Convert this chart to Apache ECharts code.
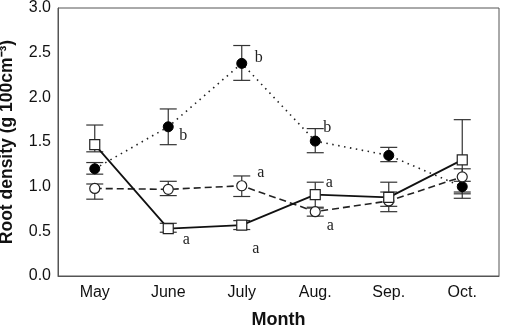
<!DOCTYPE html>
<html>
<head>
<meta charset="utf-8">
<script src="https://cdn.jsdelivr.net/npm/echarts@6/dist/echarts.min.js"></script>
<style>
  html, body { margin: 0; padding: 0; background: #fff; }
  #main { width: 507px; height: 332px; }
</style>
</head>
<body>
<div id="main"></div>
<script>
const months = ["May", "June", "July", "Aug.", "Sep.", "Oct."];
const yTicks = [0, 0.5, 1.0, 1.5, 2.0, 2.5, 3.0];

// filled circles, dotted line
const filledMean = [1.20, 1.67, 2.38, 1.51, 1.35, 1.00];
const filledHi = [1.27, 1.87, 2.58, 1.65, 1.44, 1.06];
const filledLo = [1.14, 1.47, 2.19, 1.38, 1.28, 0.92];
const filledLetters = ["", "b", "b", "b", "", ""];

// open circles, dashed line
const openMean = [0.98, 0.97, 1.01, 0.72, 0.84, 1.11];
const openHi = [1.03, 1.06, 1.12, 0.76, 0.94, 1.20];
const openLo = [0.86, 0.90, 0.89, 0.67, 0.78, 0.94];
const openLetters = ["", "", "a", "a", "", ""];

// open squares, solid line
const squareMean = [1.47, 0.53, 0.57, 0.91, 0.88, 1.30];
const squareHi = [1.69, 0.59, 0.62, 1.05, 1.05, 1.75];
const squareLo = [1.39, 0.49, 0.52, 0.77, 0.72, 0.87];
const squareLetters = ["", "a", "a", "a", "", ""];

// where each letter sits relative to its point (px)
const filledOff = [null, [15, 9], [17, -6], [12, -13], null, null];
const openOff = [null, null, [19, -13], [15, 14], null, null];
const squareOff = [null, [18, 11], [14, 24], [14, -12], null, null];

const chart = echarts.init(document.getElementById("main"));

function withLetters(means, letters, offs) {
  return means.map((v, i) => {
    if (!letters[i]) return v;
    return {
      value: v,
      label: {
        show: true,
        formatter: letters[i],
        position: "inside",
        offset: offs[i],
        fontFamily: "Liberation Serif",
        fontSize: 16,
        color: "#222"
      }
    };
  });
}

function errBars(hi, lo) {
  return {
    type: "custom",
    z: 1,
    silent: true,
    data: hi.map((h, i) => [i, lo[i], h]),
    renderItem(params, api) {
      const top = api.coord([api.value(0), api.value(2)]);
      const bot = api.coord([api.value(0), api.value(1)]);
      const w = 8.5;
      const st = { stroke: "#333", lineWidth: 1.2 };
      return {
        type: "group",
        children: [
          { type: "line", shape: { x1: top[0], y1: top[1], x2: bot[0], y2: bot[1] }, style: st },
          { type: "line", shape: { x1: top[0] - w, y1: top[1], x2: top[0] + w, y2: top[1] }, style: st },
          { type: "line", shape: { x1: bot[0] - w, y1: bot[1], x2: bot[0] + w, y2: bot[1] }, style: st }
        ]
      };
    }
  };
}

chart.setOption({
  animation: false,
  grid: {
    left: 58, right: 8, top: 8, bottom: 56,
    outerBoundsMode: "none",
    containLabel: false,
    show: true, borderColor: "#555", borderWidth: 1
  },
  xAxis: {
    type: "category",
    data: months,
    boundaryGap: true,
    name: "Month",
    nameLocation: "middle",
    nameGap: 35,
    nameTextStyle: { fontFamily: "Liberation Sans", fontWeight: "bold", fontSize: 18, color: "#111" },
    axisLine: { lineStyle: { color: "#555" } },
    axisTick: { show: false },
    axisLabel: { fontFamily: "Liberation Sans", fontSize: 16, color: "#111", margin: 9 }
  },
  yAxis: {
    type: "value",
    min: yTicks[0],
    max: yTicks[yTicks.length - 1],
    interval: 0.5,
    name: "Root density (g 100cm\u207B\u00B3)",
    nameLocation: "middle",
    nameGap: 42,
    nameTextStyle: { fontFamily: "Liberation Sans", fontWeight: "bold", fontSize: 17.5, color: "#111" },
    axisLine: { show: true, lineStyle: { color: "#555" } },
    axisTick: { show: false },
    splitLine: { show: false },
    axisLabel: {
      fontFamily: "Liberation Sans", fontSize: 16, color: "#111", margin: 7,
      formatter: v => v.toFixed(1)
    }
  },
  series: [
    errBars(filledHi, filledLo),
    errBars(openHi, openLo),
    errBars(squareHi, squareLo),
    {
      type: "line",
      z: 3,
      data: withLetters(filledMean, filledLetters, filledOff),
      symbol: "circle",
      symbolSize: 10,
      itemStyle: { color: "#000", borderColor: "#000" },
      lineStyle: { color: "#222", width: 1.6, type: [1.5, 4.5] }
    },
    {
      type: "line",
      z: 3,
      data: withLetters(openMean, openLetters, openOff),
      symbol: "circle",
      symbolSize: 10,
      itemStyle: { color: "#fff", borderColor: "#222", borderWidth: 1.2 },
      lineStyle: { color: "#222", width: 1.6, type: [7, 4] }
    },
    {
      type: "line",
      z: 3,
      data: withLetters(squareMean, squareLetters, squareOff),
      symbol: "rect",
      symbolSize: 10,
      itemStyle: { color: "#fff", borderColor: "#222", borderWidth: 1.2 },
      lineStyle: { color: "#111", width: 1.8, type: "solid" }
    }
  ]
});
</script>
</body>
</html>
